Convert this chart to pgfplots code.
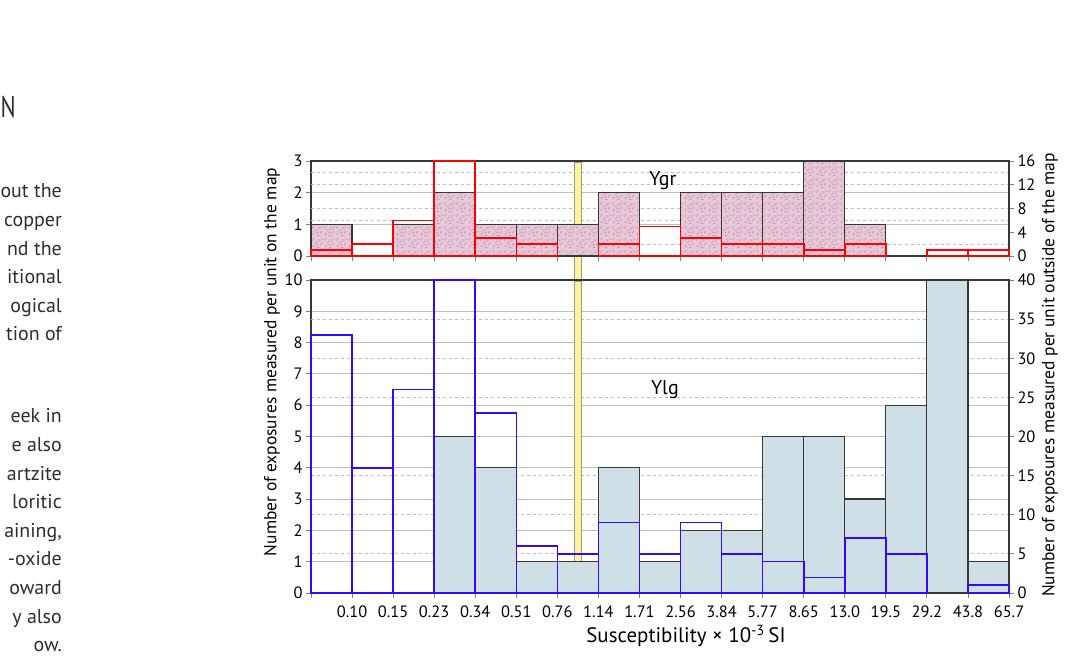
\documentclass[border=0pt]{standalone}
\usepackage{fontspec}
\setmainfont{PT Sans}
\usepackage{pgfplots}
\pgfplotsset{compat=1.18}
\usetikzlibrary{patterns}

\definecolor{pinkfill}{RGB}{229,201,216}
\definecolor{pinkdash}{RGB}{200,120,165}
\definecolor{bluefill}{RGB}{206,224,230}
\definecolor{barblue}{RGB}{48,10,255}
\definecolor{barred}{RGB}{255,0,0}
\definecolor{framec}{RGB}{55,55,55}
\definecolor{gridgray}{RGB}{190,190,190}
\definecolor{bandyellow}{RGB}{255,245,150}
\definecolor{textgray}{RGB}{45,45,45}

\pgfdeclarepatternformonly{confetti}{\pgfpointorigin}{\pgfpoint{12bp}{12bp}}{\pgfpoint{12bp}{12bp}}{%
  \pgfsetlinewidth{0.6bp}%
  \pgfpathmoveto{\pgfpoint{1bp}{2bp}}\pgfpathlineto{\pgfpoint{2.5bp}{4.5bp}}%
  \pgfpathmoveto{\pgfpoint{5bp}{1bp}}\pgfpathlineto{\pgfpoint{8bp}{2bp}}%
  \pgfpathmoveto{\pgfpoint{9bp}{4bp}}\pgfpathlineto{\pgfpoint{10.5bp}{6.5bp}}%
  \pgfpathmoveto{\pgfpoint{3bp}{7bp}}\pgfpathlineto{\pgfpoint{6bp}{8bp}}%
  \pgfpathmoveto{\pgfpoint{7bp}{10.5bp}}\pgfpathlineto{\pgfpoint{9bp}{8.5bp}}%
  \pgfpathmoveto{\pgfpoint{1bp}{9bp}}\pgfpathlineto{\pgfpoint{1.8bp}{11.5bp}}%
  \pgfpathmoveto{\pgfpoint{9.5bp}{11bp}}\pgfpathlineto{\pgfpoint{11.5bp}{10.3bp}}%
  \pgfpathmoveto{\pgfpoint{5bp}{4bp}}\pgfpathlineto{\pgfpoint{6.5bp}{5.5bp}}%
  \pgfusepath{stroke}%
}

\pgfplotsset{
  /pgf/number format/assume math mode=true,
  hist/.style={
    scale only axis, width=698bp, anchor=south west,
    xmin=0, xmax=17,
    xtick={0,...,17},
    tick align=outside,
    major tick length=5bp,
    tick style={gray, line width=0.8bp},
    axis line style={framec, line width=1.4bp},
    tick label style={font=\fontsize{16.5}{18}\selectfont, text=black},
  },
  leftax/.style={
    hist, xtick pos=bottom, ytick pos=left,
    ymajorgrids, major grid style={gridgray, line width=0.8bp},
    extra y tick style={ymajorgrids=true, major grid style={gridgray, line width=0.8bp, dash pattern=on 3bp off 3bp}, major tick length=0pt},
    extra y tick labels={},
  },
  rightax/.style={
    hist, axis y line*=right, axis x line=none, clip=false,
  },
}

\begin{document}
\begin{tikzpicture}
\useasboundingbox (0,0) rectangle (1074bp,657bp);

% fragments of the page text on the left
\begin{scope}[every node/.style={anchor=base east, inner sep=0pt, text=textgray, font=\fontsize{20}{23}\selectfont}]
\node[anchor=base west, font=\fontsize{30}{34}\selectfont, xscale=0.75, transform shape] at (0.5bp,539bp) {N};
\node at (62bp,459bp) {out the};
\node at (62bp,430.4bp) {copper};
\node at (62bp,401.8bp) {nd the};
\node at (62bp,373.2bp) {itional};
\node at (62bp,344.6bp) {ogical};
\node at (62bp,316bp) {tion of};
\node at (62bp,234bp) {eek in};
\node at (62bp,205.4bp) {e also};
\node at (62bp,176.8bp) {artzite};
\node at (62bp,148.2bp) {loritic};
\node at (62bp,119.6bp) {aining,};
\node at (62bp,91bp) {-oxide};
\node at (62bp,62.4bp) {oward};
\node at (62bp,33.8bp) {y also};
\node at (62bp,5.2bp) {ow.};
\end{scope}

% ---------- top panel (Ygr) ----------
\begin{axis}[leftax, at={(311bp,401bp)}, height=95bp, clip=false,
  ymin=0, ymax=3, ytick={0,1,2,3}, xticklabels={},
  extra y ticks={0.375,1.125,1.5,2.25,2.625}]
\fill[bandyellow, draw=gray!80, line width=0.5bp] (axis cs:6.42,-0.76) rectangle (axis cs:6.57,2.97);
\addplot[ybar, bar width=1, bar shift=0pt, draw=framec, line width=1.2bp, fill=pinkfill,
  postaction={pattern=confetti, pattern color=pinkdash}]
  coordinates {(0.5,1) (2.5,1) (3.5,2) (4.5,1) (5.5,1) (6.5,1) (7.5,2) (9.5,2) (10.5,2) (11.5,2) (12.5,3) (13.5,1)};
\node[font=\fontsize{20}{22}\selectfont] at (axis cs:8.57,2.37) {Ygr};
\end{axis}
\begin{axis}[rightax, at={(311bp,401bp)}, height=95bp,
  ymin=0, ymax=16, ytick={0,4,8,12,16}]
\addplot[ybar, bar width=1, bar shift=0pt, draw=barred, line width=1.6bp, fill=none]
  coordinates {(0.5,1) (1.5,2) (2.5,6) (3.5,16) (4.5,3) (5.5,2) (7.5,2) (8.5,5) (9.5,3) (10.5,2) (11.5,2) (12.5,1) (13.5,2) (15.5,1) (16.5,1)};
\end{axis}

% ---------- lower panel (Ylg) ----------
\begin{axis}[leftax, at={(311bp,64bp)}, height=313bp, clip=false,
  ymin=0, ymax=10, ytick={0,...,10},
  xticklabels={{},0.10,0.15,0.23,0.34,0.51,0.76,1.14,1.71,2.56,3.84,5.77,8.65,13.0,19.5,29.2,43.8,65.7},
  xticklabel style={yshift=-4bp},
  extra y ticks={1.25,2.5,3.75,5,6.25,7.5,8.75}]
\fill[bandyellow, draw=gray!80, line width=0.5bp] (axis cs:6.42,0) rectangle (axis cs:6.57,9.97);
\addplot[ybar, bar width=1, bar shift=0pt, draw=framec, line width=1.2bp, fill=bluefill]
  coordinates {(3.5,5) (4.5,4) (5.5,1) (6.5,1) (7.5,4) (8.5,1) (9.5,2) (10.5,2) (11.5,5) (12.5,5) (13.5,3) (14.5,6) (15.5,10) (16.5,1)};
\node[font=\fontsize{20}{22}\selectfont] at (axis cs:8.62,6.51) {Ylg};
\end{axis}
\begin{axis}[rightax, at={(311bp,64bp)}, height=313bp,
  ymin=0, ymax=40, ytick={0,5,...,40}]
\addplot[ybar, bar width=1, bar shift=0pt, draw=barblue, line width=1.6bp, fill=none]
  coordinates {(0.5,33) (1.5,16) (2.5,26) (3.5,40) (4.5,23) (5.5,6) (6.5,5) (7.5,9) (8.5,5) (9.5,9) (10.5,5) (11.5,4) (12.5,2) (13.5,7) (14.5,5) (16.5,1)};
\end{axis}

% axis titles
\node[rotate=90, font=\fontsize{17.5}{19}\selectfont] at (272bp,295bp) {Number of exposures measured per unit on the map};
\node[rotate=90, font=\fontsize{17.5}{19}\selectfont] at (1050bp,282bp) {Number of exposures measured per unit outside of the map};
\node[font=\fontsize{21}{23}\selectfont] at (686bp,21bp) {Susceptibility × 10\textsuperscript{-3}\,SI};
\end{tikzpicture}
\end{document}
